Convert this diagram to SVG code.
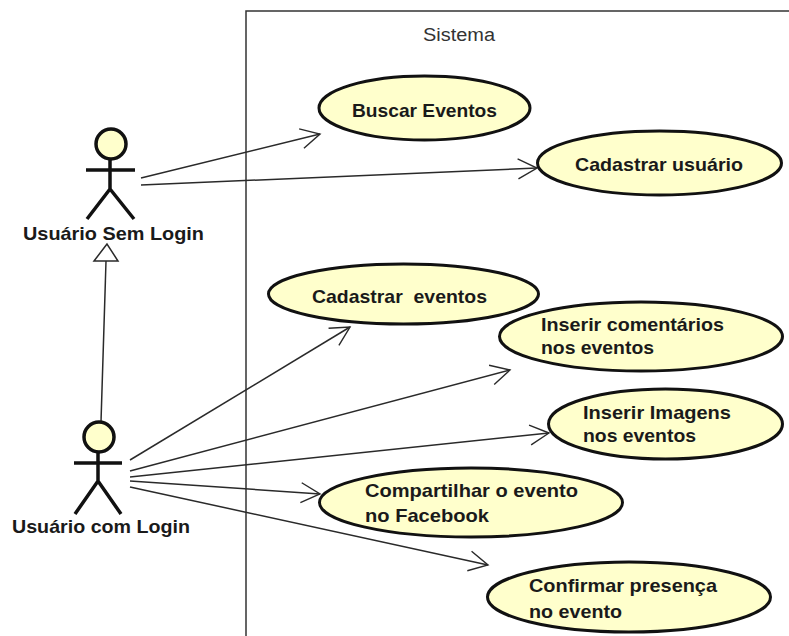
<svg xmlns="http://www.w3.org/2000/svg" width="789" height="636" viewBox="0 0 789 636">
<defs>
<marker id="open" markerUnits="userSpaceOnUse" markerWidth="26" markerHeight="28" refX="22" refY="14" orient="auto"><path d="M3 4L22 14L3 24" fill="none" stroke="#2a2a2a" stroke-width="1.400"/></marker>
</defs>
<style>
text{font-family:"Liberation Sans",Arial,sans-serif;fill:#1a1a1a}
.b{font-weight:700;font-size:18.500px}
.u ellipse{fill:#ffffcc;stroke:#111;stroke-width:3}
.a circle{fill:#ffffcc;stroke:#111;stroke-width:3.500}
.a path{fill:none;stroke:#111;stroke-width:3.500}
.c{fill:none;stroke:#2a2a2a;stroke-width:1.500}
</style>
<rect width="789" height="636" fill="#fff"/>
<g id="sistema">
<path d="M246 636V11H789" fill="none" stroke="#333" stroke-width="1.500"/>
<text x="423" y="41" font-size="18" textLength="72" lengthAdjust="spacingAndGlyphs" style="fill:#333">Sistema</text>
</g>
<g id="connectors">
<path class="c" marker-end="url(#open)" d="M141 178L320 134"/>
<path class="c" marker-end="url(#open)" d="M141 185L537 168"/>
<path class="c" marker-end="url(#open)" d="M130 460L350 327"/>
<path class="c" marker-end="url(#open)" d="M130 471L510 370"/>
<path class="c" marker-end="url(#open)" d="M130 477L549 433"/>
<path class="c" marker-end="url(#open)" d="M130 481L320 494"/>
<path class="c" marker-end="url(#open)" d="M130 487L488 565"/>
<path class="c" d="M101 422L106 261"/>
<path d="M107 244L94 261H118Z" fill="#fff" stroke="#2a2a2a" stroke-width="1.500"/>
</g>
<g id="actor-sem-login" class="a">
<circle cx="111" cy="144" r="15"/>
<path d="M86 170H135M110 159V189M87 219L110 189L134 219"/>
<text class="b" x="23" y="240" textLength="181" lengthAdjust="spacingAndGlyphs">Usuário Sem Login</text>
</g>
<g id="actor-com-login" class="a">
<circle cx="99" cy="437" r="15"/>
<path d="M74 463H122M98 452V481M75 514L98 481L121 514"/>
<text class="b" x="12" y="533" textLength="178" lengthAdjust="spacingAndGlyphs">Usuário com Login</text>
</g>
<g id="buscar-eventos" class="u"><ellipse cx="424.500" cy="108" rx="105.500" ry="32"/><text class="b" x="352" y="117" textLength="145" lengthAdjust="spacingAndGlyphs">Buscar Eventos</text></g>
<g id="cadastrar-usuario" class="u"><ellipse cx="659.500" cy="163" rx="122" ry="32"/><text class="b" x="575" y="171" textLength="168" lengthAdjust="spacingAndGlyphs">Cadastrar usuário</text></g>
<g id="cadastrar-eventos" class="u"><ellipse cx="403.500" cy="294" rx="135" ry="30"/><text class="b" x="312" y="303" textLength="175" lengthAdjust="spacingAndGlyphs" xml:space="preserve">Cadastrar  eventos</text></g>
<g id="inserir-comentarios" class="u"><ellipse cx="641" cy="336.500" rx="141.500" ry="34.500"/><text class="b" x="541" y="331" textLength="183" lengthAdjust="spacingAndGlyphs">Inserir comentários</text><text class="b" x="541" y="354" textLength="113" lengthAdjust="spacingAndGlyphs">nos eventos</text></g>
<g id="inserir-imagens" class="u"><ellipse cx="665.500" cy="424" rx="117" ry="35"/><text class="b" x="583" y="419" textLength="148" lengthAdjust="spacingAndGlyphs">Inserir Imagens</text><text class="b" x="583" y="442" textLength="113" lengthAdjust="spacingAndGlyphs">nos eventos</text></g>
<g id="compartilhar" class="u"><ellipse cx="471" cy="502.500" rx="151.500" ry="34.500"/><text class="b" x="365" y="497" textLength="213" lengthAdjust="spacingAndGlyphs">Compartilhar o evento</text><text class="b" x="365" y="522" textLength="124" lengthAdjust="spacingAndGlyphs">no Facebook</text></g>
<g id="confirmar" class="u"><ellipse cx="629" cy="597" rx="141.500" ry="35"/><text class="b" x="529" y="592" textLength="188" lengthAdjust="spacingAndGlyphs">Confirmar presença</text><text class="b" x="529" y="618" textLength="93" lengthAdjust="spacingAndGlyphs">no evento</text></g>
</svg>
